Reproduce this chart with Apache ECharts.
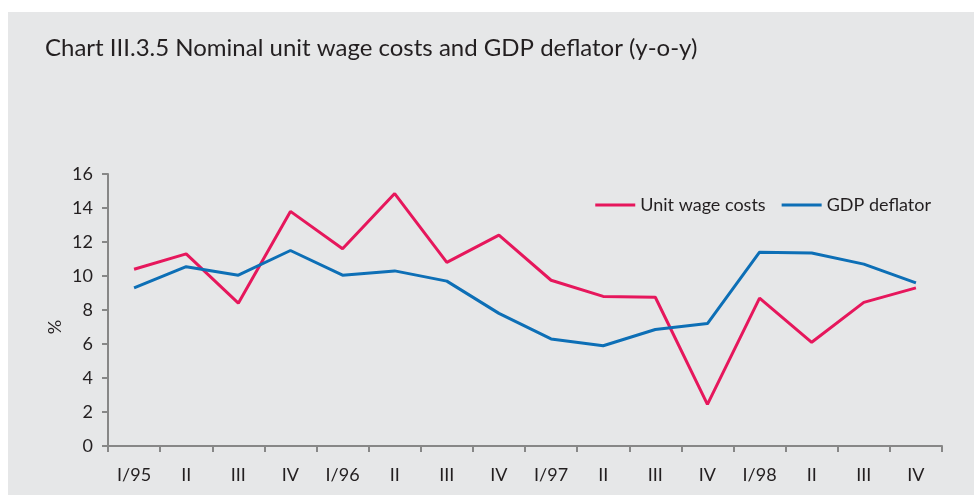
<!DOCTYPE html>
<html>
<head>
<meta charset="utf-8">
<script src="https://cdn.jsdelivr.net/npm/echarts@6/dist/echarts.min.js"></script>
<style>
html,body{margin:0;padding:0;background:#fff;}
#c{width:974px;height:495px;}
</style>
</head>
<body>
<div id="c"></div>
<script>
const categories = ['I/95','II','III','IV','I/96','II','III','IV','I/97','II','III','IV','I/98','II','III','IV'];
const unitWageCosts = [10.4, 11.3, 8.4, 13.8, 11.6, 14.85, 10.8, 12.4, 9.75, 8.8, 8.75, 2.45, 8.7, 6.1, 8.45, 9.3];
const gdpDeflator = [9.3, 10.55, 10.05, 11.5, 10.05, 10.3, 9.7, 7.8, 6.3, 5.9, 6.85, 7.2, 11.4, 11.35, 10.7, 9.6];
const yTicks = [0, 2, 4, 6, 8, 10, 12, 14, 16];

const FONT = 'Lato, "Open Sans", sans-serif';
const chart = echarts.init(document.getElementById('c'));
chart.setOption({
  backgroundColor: '#ffffff',
  animation: false,
  graphic: [{
    type: 'rect', z: -10, silent: true,
    shape: { x: 8, y: 12, width: 974, height: 495 },
    style: { fill: '#e6e7e8' }
  }, {
    type: 'text', silent: true,
    x: 55, y: 327, rotation: Math.PI / 2,
    style: { text: '%', fontFamily: FONT, fontSize: 18, fill: '#231f20', align: 'center', verticalAlign: 'middle' }
  }],
  title: {
    text: 'Chart III.3.5 Nominal unit wage costs and GDP deflator (y-o-y)',
    left: 40, top: 31,
    textStyle: { fontFamily: FONT, fontSize: 24, fontWeight: 'normal', color: '#231f20' }
  },
  legend: {
    right: 38, top: 191,
    itemWidth: 40, itemHeight: 3, itemGap: 16,
    icon: 'rect',
    textStyle: { fontFamily: FONT, fontSize: 18, color: '#231f20' },
    data: ['Unit wage costs', 'GDP deflator']
  },
  grid: { left: 108, right: 32, top: 174, bottom: 49 },
  xAxis: {
    type: 'category',
    data: categories,
    boundaryGap: true,
    axisLine: { lineStyle: { color: '#878787', width: 2 } },
    axisTick: { show: true, length: 6, lineStyle: { color: '#878787', width: 2 } },
    axisLabel: { margin: 20, fontFamily: FONT, fontSize: 18, color: '#231f20', interval: 0 }
  },
  yAxis: {
    type: 'value',
    min: yTicks[0], max: yTicks[yTicks.length - 1], interval: 2,
    axisLine: { show: true, lineStyle: { color: '#878787', width: 2 } },
    axisTick: { show: true, length: 6, lineStyle: { color: '#878787', width: 2 } },
    splitLine: { show: false },
    axisLabel: { margin: 15, fontFamily: FONT, fontSize: 18, color: '#231f20' }
  },
  series: [
    {
      name: 'Unit wage costs', type: 'line', data: unitWageCosts,
      symbol: 'none', color: '#e6175c',
      lineStyle: { width: 3, color: '#e6175c' }
    },
    {
      name: 'GDP deflator', type: 'line', data: gdpDeflator,
      symbol: 'none', color: '#0d6fb6',
      lineStyle: { width: 3, color: '#0d6fb6' }
    }
  ]
});
</script>
</body>
</html>
